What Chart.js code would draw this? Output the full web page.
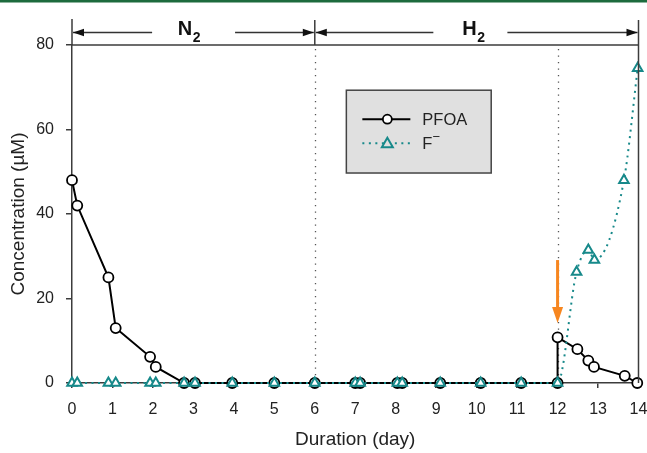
<!DOCTYPE html>
<html>
<head>
<meta charset="utf-8">
<title>PFOA defluorination</title>
<script src="https://cdn.jsdelivr.net/npm/chart.js@4.4.1/dist/chart.umd.min.js"></script>
<style>
  html, body { margin: 0; padding: 0; background: #fff; }
  #wrap { width: 647px; height: 453px; }
</style>
</head>
<body>
<div id="wrap"><canvas id="concChart" width="647" height="453"></canvas></div>
<script>
// ---------- data ----------
const pfoaDays = [0, 0.13, 0.9, 1.08, 1.93, 2.07, 2.77, 3.04, 3.96, 5.0, 6.0, 7.0, 7.12, 8.04, 8.16, 9.1, 10.1, 11.1, 12.0, 12.0, 12.49, 12.76, 12.9, 13.66, 13.97];
const pfoaValues = [48, 42, 25, 13, 6.2, 3.8, 0, 0, 0, 0, 0, 0, 0, 0, 0, 0, 0, 0, 0, 10.8, 8.0, 5.3, 3.8, 1.7, 0];

const fluorideDays = [0, 0.13, 0.9, 1.08, 1.93, 2.07, 2.77, 3.04, 3.96, 5.0, 6.0, 7.0, 7.12, 8.04, 8.16, 9.1, 10.1, 11.1, 12.0, 12.47, 12.76, 12.91, 13.64, 13.98];
const fluorideValues = [0, 0, 0, 0, 0, 0, 0, 0, 0, 0, 0, 0, 0, 0, 0, 0, 0, 0, 0, 26.3, 31.5, 29.1, 48, 74.5];

// phase bars above the plot (days)
const phaseLabels = ['N', 'H'];
const phaseSubs = ['2', '2'];
const phaseStart = [0, 6];
const phaseEnd = [6, 14];
const phaseTextAt = [2.89, 9.92];
const phaseGapFrom = [1.98, 8.93];
const phaseGapTo = [4.03, 10.76];

// dotted dividers and the orange dosing arrow
const dividerDays = [6, 12];
const doseDay = 12;
const doseArrowFrom = 29.1;
const doseArrowTo = 14.2;

const legendNames = ['PFOA', 'F'];

// ---------- styles ----------
const teal = '#17898a';
const ink = '#222';
const frame = '#3c3c3c';
const sans = "'Liberation Sans', Arial, sans-serif";

const toPoints = (xs, ys) => xs.map((d, i) => ({ x: d, y: ys[i] }));

// 그림 위 장식 (프레임, 단계 화살표, 범례)
const decor = {
  id: 'decor',
  beforeDraw(chart) {
    const ctx = chart.ctx;
    ctx.save();
    ctx.fillStyle = '#1d6b3d';
    ctx.fillRect(0, 0, chart.width, 2.5);
    ctx.restore();
  },
  beforeDatasetsDraw(chart) {
    const { ctx, chartArea, scales: { x } } = chart;
    ctx.save();
    ctx.strokeStyle = '#555';
    ctx.lineWidth = 1.3;
    ctx.setLineDash([1.3, 5.2]);
    dividerDays.forEach((d) => {
      const px = Math.round(x.getPixelForValue(d)) + 0.5;
      ctx.beginPath();
      ctx.moveTo(px, chartArea.top + 4);
      ctx.lineTo(px, chartArea.bottom);
      ctx.stroke();
    });
    ctx.restore();
  },
  afterDatasetsDraw(chart) {
    const { ctx, chartArea, scales: { x, y } } = chart;
    const top = chartArea.top;
    ctx.save();

    // 위/오른쪽 테두리
    ctx.strokeStyle = frame;
    ctx.lineWidth = 1.5;
    ctx.beginPath();
    ctx.moveTo(chartArea.left, top);
    ctx.lineTo(chartArea.right, top);
    ctx.moveTo(chartArea.right, top - 25);
    ctx.lineTo(chartArea.right, chartArea.bottom);
    ctx.moveTo(chartArea.left, top - 26);
    ctx.lineTo(chartArea.left, top);
    ctx.moveTo(x.getPixelForValue(6), top - 25);
    ctx.lineTo(x.getPixelForValue(6), top);
    ctx.stroke();

    // 단계 화살표 (N2, H2)
    const ay = top - 12.5;
    const head = (tip, dir) => {
      ctx.beginPath();
      ctx.moveTo(tip, ay);
      ctx.lineTo(tip - dir * 11, ay - 3.8);
      ctx.lineTo(tip - dir * 11, ay + 3.8);
      ctx.closePath();
      ctx.fill();
    };
    ctx.fillStyle = '#111';
    ctx.strokeStyle = '#333';
    ctx.lineWidth = 1.5;
    phaseLabels.forEach((lab, i) => {
      const x0 = x.getPixelForValue(phaseStart[i]) + 1;
      const x1 = x.getPixelForValue(phaseEnd[i]) - 1;
      ctx.beginPath();
      ctx.moveTo(x0, ay);
      ctx.lineTo(x.getPixelForValue(phaseGapFrom[i]), ay);
      ctx.moveTo(x.getPixelForValue(phaseGapTo[i]), ay);
      ctx.lineTo(x1, ay);
      ctx.stroke();
      head(x0, -1);
      head(x1, 1);

      ctx.font = 'bold 20px ' + sans;
      const wMain = ctx.measureText(lab).width;
      ctx.font = 'bold 14px ' + sans;
      const wSub = ctx.measureText(phaseSubs[i]).width;
      const cx = x.getPixelForValue(phaseTextAt[i]);
      const sx = cx - (wMain + wSub) / 2;
      ctx.fillStyle = '#111';
      ctx.textBaseline = 'alphabetic';
      ctx.textAlign = 'left';
      ctx.font = 'bold 20px ' + sans;
      ctx.fillText(lab, sx, top - 10);
      ctx.font = 'bold 14px ' + sans;
      ctx.fillText(phaseSubs[i], sx + wMain + 0.5, top - 3.5);
    });

    // 주황색 화살표
    const dx = x.getPixelForValue(doseDay);
    const dy0 = y.getPixelForValue(doseArrowFrom);
    const dy1 = y.getPixelForValue(doseArrowTo);
    ctx.strokeStyle = '#f7861f';
    ctx.fillStyle = '#f7861f';
    ctx.lineWidth = 3;
    ctx.beginPath();
    ctx.moveTo(dx, dy0);
    ctx.lineTo(dx, dy1 - 14);
    ctx.stroke();
    ctx.beginPath();
    ctx.moveTo(dx, dy1);
    ctx.lineTo(dx - 5.5, dy1 - 16);
    ctx.lineTo(dx + 5.5, dy1 - 16);
    ctx.closePath();
    ctx.fill();

    // 범례
    const bx = x.getPixelForValue(6.78);
    const bx2 = x.getPixelForValue(10.36);
    const by = y.getPixelForValue(69.3);
    const by2 = y.getPixelForValue(49.7);
    ctx.fillStyle = '#e0e0e0';
    ctx.fillRect(bx, by, bx2 - bx, by2 - by);
    ctx.strokeStyle = '#444';
    ctx.lineWidth = 1.5;
    ctx.strokeRect(bx, by, bx2 - bx, by2 - by);

    const rows = [by + 29, by + 53];
    // PFOA
    ctx.strokeStyle = '#000';
    ctx.lineWidth = 2;
    ctx.beginPath();
    ctx.moveTo(bx + 16, rows[0]);
    ctx.lineTo(bx + 64, rows[0]);
    ctx.stroke();
    ctx.fillStyle = '#fff';
    ctx.lineWidth = 1.8;
    ctx.beginPath();
    ctx.arc(bx + 41, rows[0], 4.5, 0, Math.PI * 2);
    ctx.fill();
    ctx.stroke();
    // F-
    ctx.strokeStyle = teal;
    ctx.lineWidth = 2;
    ctx.setLineDash([2, 4.5]);
    ctx.beginPath();
    ctx.moveTo(bx + 16, rows[1]);
    ctx.lineTo(bx + 64, rows[1]);
    ctx.stroke();
    ctx.setLineDash([]);
    ctx.beginPath();
    ctx.moveTo(bx + 41, rows[1] - 5.5);
    ctx.lineTo(bx + 46.5, rows[1] + 4);
    ctx.lineTo(bx + 35.5, rows[1] + 4);
    ctx.closePath();
    ctx.fillStyle = '#e0e0e0';
    ctx.fill();
    ctx.stroke();

    ctx.fillStyle = ink;
    ctx.font = '16.5px ' + sans;
    ctx.textAlign = 'left';
    ctx.textBaseline = 'middle';
    ctx.fillText(legendNames[0], bx + 76, rows[0] + 1);
    ctx.fillText(legendNames[1], bx + 76, rows[1] + 1);
    const fw = ctx.measureText(legendNames[1]).width;
    ctx.font = '13px ' + sans;
    ctx.fillText('\u2212', bx + 76 + fw, rows[1] - 6);

    ctx.restore();
  },
};

const data = {
  datasets: [
    {
      label: 'F\u207B',
      data: toPoints(fluorideDays, fluorideValues),
      borderColor: teal,
      backgroundColor: '#fff',
      borderWidth: 2,
      borderDash: [2, 4.5],
      cubicInterpolationMode: 'monotone',
      pointStyle: 'triangle',
      pointRadius: 5.5,
      pointBorderWidth: 2,
      pointBorderColor: teal,
      pointBackgroundColor: '#fff',
      order: 1,
      clip: 12,
    },
    {
      label: 'PFOA',
      data: toPoints(pfoaDays, pfoaValues),
      borderColor: '#000',
      backgroundColor: '#fff',
      borderWidth: 2,
      tension: 0,
      pointStyle: 'circle',
      pointRadius: 5,
      pointBorderWidth: 1.8,
      pointBorderColor: '#000',
      pointBackgroundColor: '#fff',
      order: 2,
      clip: 12,
    },
  ],
};

const config = {
  type: 'line',
  data: data,
  options: {
    responsive: false,
    animation: false,
    devicePixelRatio: 1,
    layout: { padding: { top: 45, right: 8.5, left: 0, bottom: 0 } },
    plugins: {
      legend: { display: false },
      title: { display: false },
      tooltip: { enabled: false },
    },
    scales: {
      x: {
        type: 'linear',
        min: 0,
        max: 14,
        afterFit: (scale) => {
          scale.height = 70;
          scale.paddingLeft = 0;
          scale.paddingRight = 0;
        },
        ticks: { stepSize: 1, color: ink, font: { family: sans, size: 16 }, padding: 12, maxRotation: 0 },
        grid: { drawOnChartArea: false, drawTicks: true, tickLength: 5, color: frame, lineWidth: 1.5 },
        border: { display: true, color: frame, width: 1.5 },
        title: { display: true, text: 'Duration (day)', color: ink, font: { family: sans, size: 19 }, padding: { top: 0, bottom: 2 } },
      },
      y: {
        type: 'linear',
        min: 0,
        max: 80,
        afterFit: (scale) => {
          scale.width = 72;
          scale.paddingTop = 0;
          scale.paddingBottom = 0;
        },
        ticks: { stepSize: 20, color: ink, font: { family: sans, size: 16 }, padding: 12 },
        grid: { drawOnChartArea: false, drawTicks: true, tickLength: 6, color: frame, lineWidth: 1.5 },
        border: { display: true, color: frame, width: 1.5 },
        title: { display: true, text: 'Concentration (\u00B5M)', color: ink, font: { family: sans, size: 19 }, padding: { top: 7, bottom: 0 } },
      },
    },
  },
  plugins: [decor],
};

let myChart = new Chart(document.getElementById('concChart'), config);
</script>
</body>
</html>
